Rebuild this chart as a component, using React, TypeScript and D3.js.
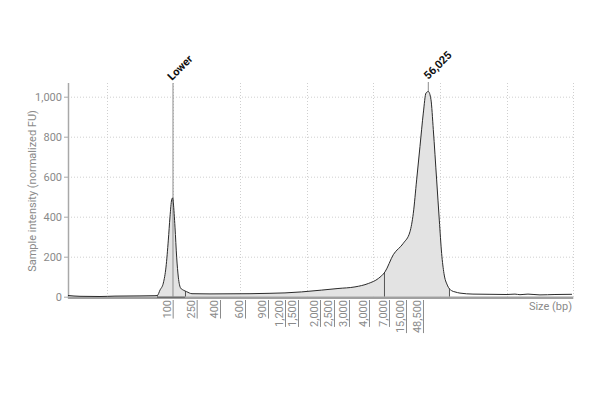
import { useEffect, useRef } from "react";
import * as d3 from "d3";

// electropherogram trace: migration time (s) vs normalized FU
const times = [
  4.2, 6.0, 9.0, 11.25, 15.0, 17.25, 17.6, 18.0, 18.5, 18.9, 19.25, 19.5, 19.75, 19.9, 20.0,
  20.25, 20.5, 20.75, 21.1, 21.5, 22.0, 22.8, 25.5, 31.5, 34.5, 36.75, 39.25, 42.25, 44.7,
  47.25, 49.25, 50.75, 51.75, 53.0, 54.5, 55.5, 56.0, 56.5, 57.0, 57.5, 57.9, 58.25, 58.65,
  59.0, 59.5, 59.9, 60.25, 60.6, 61.1, 61.75, 62.25, 63.0, 64.95, 67.5, 70.05, 71.25, 72.0,
  73.2, 75.0, 77.25, 79.8,
];
const intensities = [
  6, 2, 1, 3, 4, 5, 6, 33, 68, 148, 283, 399, 484, 494, 469,
  348, 198, 98, 43, 33, 25, 15, 14, 15, 17, 19, 24, 33, 41,
  49, 66, 91, 124, 210, 267, 325, 417, 584, 751, 918, 1018, 1026, 985,
  835, 584, 383, 216, 116, 58, 30, 24, 18, 13, 12, 11, 13, 10,
  13, 9, 11, 12,
];

// ladder sizes shown on the x axis
const ladderLabels = ["100", "250", "400", "600", "900", "1,200", "1,500", "2,000", "2,500", "3,000", "4,000", "7,000", "15,000", "48,500"];
const ladderTimes = [19.9, 23.5, 27.0, 30.75, 34.2, 36.75, 38.7, 42.0, 44.1, 46.35, 49.35, 52.35, 54.9, 57.45];

const yTicks = [0, 200, 400, 600, 800, 1000];
const xGrid = [10, 20, 30, 40, 50, 60, 70, 80];

// peak annotations
const peakLabels = ["Lower", "56,025"];
const peakTimes = [19.95, 58.25];
const peakValues = [494, 1026];

// integrated regions [start, end]
const lowerRegion = [17.55, 21.75];
const mainRegion = [21.75, 61.35];
const regionEdges = [17.55, 21.75, 51.6, 61.35];

export default function App() {
  const svgRef = useRef<SVGSVGElement>(null);

  useEffect(() => {
    if (!svgRef.current) return;
    document.body.style.margin = "0";
    const svg = d3.select(svgRef.current);
    svg.selectAll("*").remove();

    const x = d3.scaleLinear().domain([4.2, 80]).range([68, 573.3]);
    const y = d3.scaleLinear().domain([0, 1068.5]).range([296.7, 83]);
    const y0 = y(0);
    const font = "Roboto, sans-serif";
    const grey = "#8a8a8a";

    const pts: [number, number][] = times.map((t, i) => [t, intensities[i]]);

    // grid
    const grid = svg.append("g").attr("stroke", "#cfcfcf").attr("stroke-dasharray", "1,2");
    grid.selectAll("line.h").data(yTicks.filter(d => d > 0)).enter().append("line")
      .attr("x1", x(4.2)).attr("x2", x(80))
      .attr("y1", d => y(d) + 0.5).attr("y2", d => y(d) + 0.5);
    grid.selectAll("line.v").data(xGrid).enter().append("line")
      .attr("x1", d => Math.round(x(d)) + 0.5).attr("x2", d => Math.round(x(d)) + 0.5)
      .attr("y1", 83).attr("y2", y0);

    const area = d3.area<[number, number]>()
      .x(d => x(d[0])).y0(y0).y1(d => y(d[1]))
      .curve(d3.curveMonotoneX);
    const line = d3.line<[number, number]>()
      .x(d => x(d[0])).y(d => y(d[1]))
      .curve(d3.curveMonotoneX);

    const defs = svg.append("defs");
    defs.append("clipPath").attr("id", "regions")
      .selectAll("rect").data([lowerRegion, mainRegion]).enter().append("rect")
      .attr("x", d => x(d[0])).attr("width", d => x(d[1]) - x(d[0]))
      .attr("y", 0).attr("height", y0 + 1);
    defs.append("clipPath").attr("id", "under")
      .append("path").attr("d", area(pts));

    // filled regions
    svg.append("path")
      .attr("d", area(pts))
      .attr("fill", "#e3e3e3")
      .attr("clip-path", "url(#regions)");

    // region edges, clipped to the area under the trace
    svg.append("g").attr("clip-path", "url(#under)")
      .selectAll("line").data(regionEdges).enter().append("line")
      .attr("x1", d => x(d) + 0.5).attr("x2", d => x(d) + 0.5)
      .attr("y1", 83).attr("y2", y0 + 1)
      .attr("stroke", "#555").attr("stroke-width", 1);

    // lower marker line
    svg.append("line")
      .attr("x1", x(peakTimes[0])).attr("x2", x(peakTimes[0]))
      .attr("y1", 83).attr("y2", y0)
      .attr("stroke", "#8c8c8c").attr("stroke-width", 1);
    // main peak label leader
    svg.append("line")
      .attr("x1", x(peakTimes[1])).attr("x2", x(peakTimes[1]))
      .attr("y1", 82).attr("y2", y(peakValues[1]))
      .attr("stroke", "#8c8c8c").attr("stroke-width", 1);

    // axes
    svg.append("line")
      .attr("x1", 68).attr("x2", x(80))
      .attr("y1", y0 + 1).attr("y2", y0 + 1)
      .attr("stroke", "#a0a0a0").attr("stroke-width", 2.5);
    svg.append("line")
      .attr("x1", x(lowerRegion[0])).attr("x2", x(lowerRegion[1]))
      .attr("y1", y0 + 0.5).attr("y2", y0 + 0.5)
      .attr("stroke", "#555").attr("stroke-width", 1);
    svg.append("line")
      .attr("x1", 68.5).attr("x2", 68.5)
      .attr("y1", 83).attr("y2", y0 + 2)
      .attr("stroke", "#a8a8a8").attr("stroke-width", 1.5);

    // trace
    svg.append("path")
      .attr("d", line(pts))
      .attr("fill", "none")
      .attr("stroke", "#2a2a2a")
      .attr("stroke-width", 1);

    // y ticks
    const yg = svg.append("g");
    yg.selectAll("line").data(yTicks).enter().append("line")
      .attr("x1", 64).attr("x2", 68)
      .attr("y1", d => y(d) + 0.5).attr("y2", d => y(d) + 0.5)
      .attr("stroke", "#a8a8a8");
    yg.selectAll("text").data(yTicks).enter().append("text")
      .attr("x", 62).attr("y", d => y(d))
      .attr("dy", "0.35em")
      .attr("text-anchor", "end")
      .attr("font-family", font).attr("font-size", 11)
      .attr("fill", grey)
      .text(d => d3.format(",")(d));

    svg.append("text")
      .attr("transform", `translate(36,191) rotate(-90)`)
      .attr("text-anchor", "middle")
      .attr("font-family", font).attr("font-size", 11)
      .attr("fill", grey)
      .text("Sample intensity (normalized FU)");

    // ladder labels with underline
    const lg = svg.append("g");
    ladderLabels.forEach((lab, i) => {
      const px = x(ladderTimes[i]);
      const txt = lg.append("text")
        .attr("transform", `translate(${px - 2},300) rotate(-90)`)
        .attr("text-anchor", "end")
        .attr("font-family", font).attr("font-size", 11)
        .attr("fill", grey)
        .text(lab);
      const len = (txt.node() as SVGTextElement).getComputedTextLength();
      lg.append("line")
        .attr("x1", px + 0.5).attr("x2", px + 0.5)
        .attr("y1", 300).attr("y2", 300 + len)
        .attr("stroke", grey).attr("stroke-width", 1);
    });

    svg.append("text")
      .attr("x", 572).attr("y", 310)
      .attr("text-anchor", "end")
      .attr("font-family", font).attr("font-size", 11)
      .attr("fill", grey)
      .text("Size (bp)");

    // peak labels
    svg.selectAll("text.peak").data(peakLabels).enter().append("text")
      .attr("class", "peak")
      .attr("transform", (d, i) => `translate(${x(peakTimes[i]) - (i === 0 ? 1 : 0)},${i === 0 ? 81 : 80}) rotate(-45)`)
      .attr("font-family", font).attr("font-size", 11)
      .attr("font-weight", "bold")
      .attr("fill", "#111")
      .text(d => d);
  }, []);

  return <svg ref={svgRef} width={600} height={400} style={{ display: "block", background: "#fff" }} />;
}
